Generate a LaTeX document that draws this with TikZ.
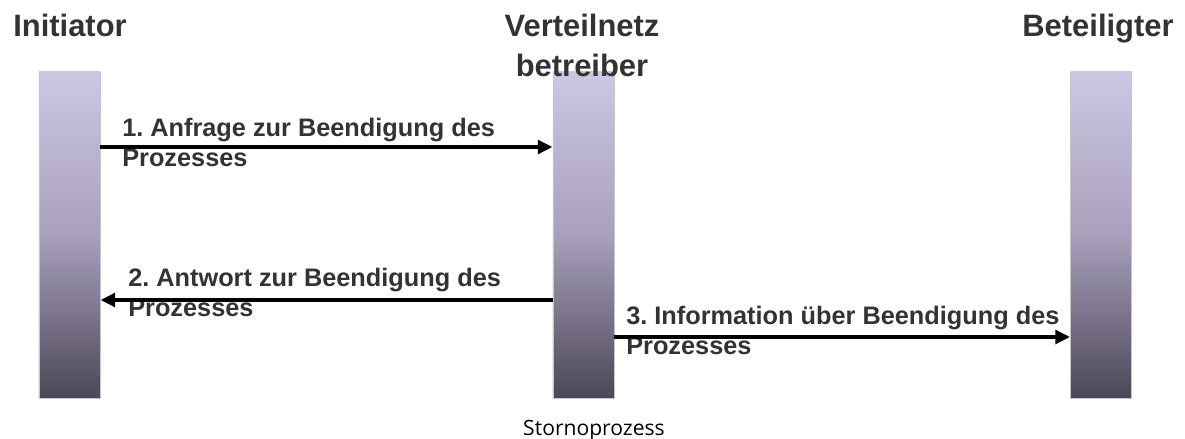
\documentclass[tikz,border=0pt]{standalone}
\usepackage{fontspec}
\setmainfont{Liberation Sans}
\newfontfamily\capfont{Open Sans}
\usetikzlibrary{arrows.meta}
\frenchspacing

\definecolor{barTop}{RGB}{205,198,228}
\definecolor{barMid}{RGB}{168,160,188}
\definecolor{barBot}{RGB}{76,70,88}
\definecolor{inkGray}{RGB}{51,51,51}

\tikzset{
  lifeline/.style={draw=gray!45, line width=0.6pt, top color=barTop, bottom color=barBot,
    middle color=barMid, minimum width=1.525cm, minimum height=8.15cm, inner sep=0pt},
  role/.style={font=\fontsize{22}{28.5}\selectfont\bfseries, text=inkGray, align=center, inner sep=0pt},
  msglabel/.style={font=\fontsize{18}{21}\selectfont\bfseries, text=inkGray, align=left,
    anchor=north west, inner sep=0pt},
  msg/.style={line width=0.1cm, -{Triangle[length=0.37cm, width=0.34cm]}},
}

\begin{document}
\begin{tikzpicture}[x=0.025cm, y=-0.025cm]
    \useasboundingbox (0,0) rectangle (1185,439);
    % lifelines
    \node[lifeline] (ini) at (69.5,235) {};
    \node[lifeline] (vnb) at (583.5,235) {};
    \node[lifeline] (bet) at (1101,235) {};
    % roles
    \node[role, anchor=base] (iniT) at (70,37) {Initiator};
    \node[role, anchor=north] (vnbT) at (582,14) {Verteilnetz\\betreiber};
    \node[role, anchor=base] (betT) at (1098,37) {Beteiligter};
    % message texts
    \node[msglabel] (l1) at (122,118) {1. Anfrage zur Beendigung des\\Prozesses};
    \node[msglabel] (l2) at (128,268) {2. Antwort zur Beendigung des\\Prozesses};
    \node[msglabel] (l3) at (626,306) {3. Information über Beendigung des\\Prozesses};
    % message heights
    \coordinate (m1) at (0,147);
    \coordinate (m2) at (0,300);
    \coordinate (m3) at (0,337);
    % messages
    \draw[msg] (ini.east |- m1) -- (vnb.west |- m1);
    \draw[msg] (vnb.west |- m2) -- (ini.east |- m2);
    \draw[msg] (vnb.east |- m3) -- (bet.west |- m3);
    % caption
    \node[font=\capfont\fontsize{15}{18}\selectfont, anchor=base, inner sep=0pt] (cap) at (594,435) {Stornoprozess};
\end{tikzpicture}
\end{document}
